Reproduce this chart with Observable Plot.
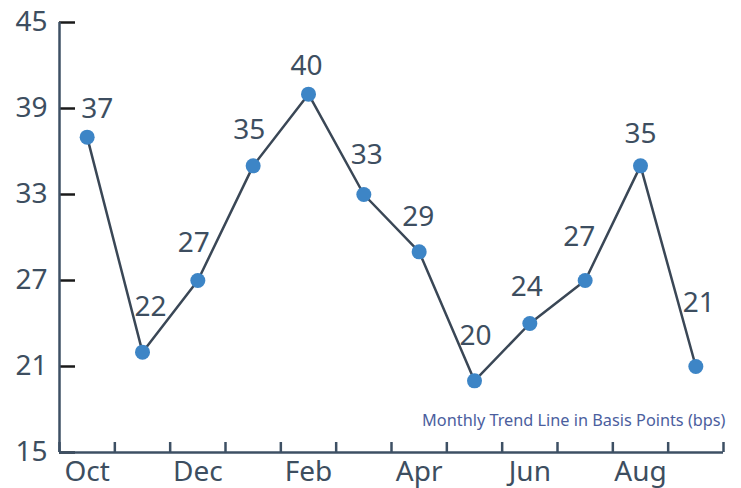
<!DOCTYPE html>
<html>
<head>
<meta charset="utf-8">
<script src="https://cdn.jsdelivr.net/npm/d3@7"></script>
<script src="https://cdn.jsdelivr.net/npm/@observablehq/plot@0.6"></script>
<style>
  html, body { margin: 0; padding: 0; background: #fff; }
  #chart svg { display: block; }
</style>
</head>
<body>
<div id="chart"></div>
<script>
const months = ["Oct", "Nov", "Dec", "Jan", "Feb", "Mar", "Apr", "May", "Jun", "Jul", "Aug", "Sep"];
const values = [37, 22, 27, 35, 40, 33, 29, 20, 24, 27, 35, 21];
const yTicks = [15, 21, 27, 33, 39, 45];
const xLabelIdx = [0, 2, 4, 6, 8, 10];
const caption = "Monthly Trend Line in Basis Points (bps)";

// label nudges (style only, in pixels) to keep value labels clear of the line
const labelDx = [10, 8, -4, -4, -2, 3, -1, 1, -3, -6, 0, 3];
const labelDy = [-19, -36, -29, -27, -19, -31, -26, -36, -28, -35, -23, -55];

const data = months.map((m, i) => ({i, month: m, value: values[i]}));
const edges = d3.range(months.length + 1).map(k => k - 0.5);

const textColor = "#3d4e60";
const font = "'Noto Sans', 'Open Sans', sans-serif";

const W = 741, H = 488;
const mL = 59, mR = 18, mT = 22, mB = 36;
const plotW = W - mL - mR, plotH = H - mT - mB;

const labelMarks = data.map((d, k) =>
  Plot.text([d], {x: "i", y: "value", text: d => String(d.value), lineAnchor: "bottom",
    dx: labelDx[k], dy: labelDy[k], fontSize: 28, fill: textColor})
);

const chart = Plot.plot({
  width: W,
  height: H,
  marginLeft: mL,
  marginRight: mR,
  marginTop: mT,
  marginBottom: mB,
  style: {fontFamily: font, background: "#fff"},
  x: {type: "linear", domain: [-0.5, months.length - 0.5]},
  y: {domain: [15, 45]},
  marks: [
    Plot.axisY({ticks: yTicks, tickSize: 0, tickPadding: 12, fontSize: 28, color: textColor, label: null}),
    Plot.axisX({ticks: xLabelIdx, tickFormat: i => months[i], tickSize: 0, tickPadding: 9, fontSize: 28, color: textColor, label: null}),
    Plot.tickY(yTicks, {y: d => d, stroke: "#1a1a1a", strokeWidth: 2.5, insetRight: plotW - 16}),
    Plot.tickX(edges, {x: d => d, stroke: "#3e5064", strokeWidth: 2.5, insetTop: plotH - 10}),
    Plot.ruleX([-0.5], {stroke: "#3e5064", strokeWidth: 2.5}),
    Plot.ruleY([15], {stroke: "#3e5064", strokeWidth: 2.5}),
    Plot.line(data, {x: "i", y: "value", stroke: "#3a4756", strokeWidth: 2.5}),
    Plot.dot(data, {x: "i", y: "value", r: 7.5, fill: "#3d85c6", stroke: "none"}),
    ...labelMarks,
    Plot.text([caption], {frameAnchor: "bottom-right", text: d => d, textAnchor: "end", lineAnchor: "bottom", dy: -27, dx: 2, fontSize: 16.3, fill: "#4b5e9e"})
  ]
});
document.getElementById("chart").appendChild(chart);
</script>
</body>
</html>
